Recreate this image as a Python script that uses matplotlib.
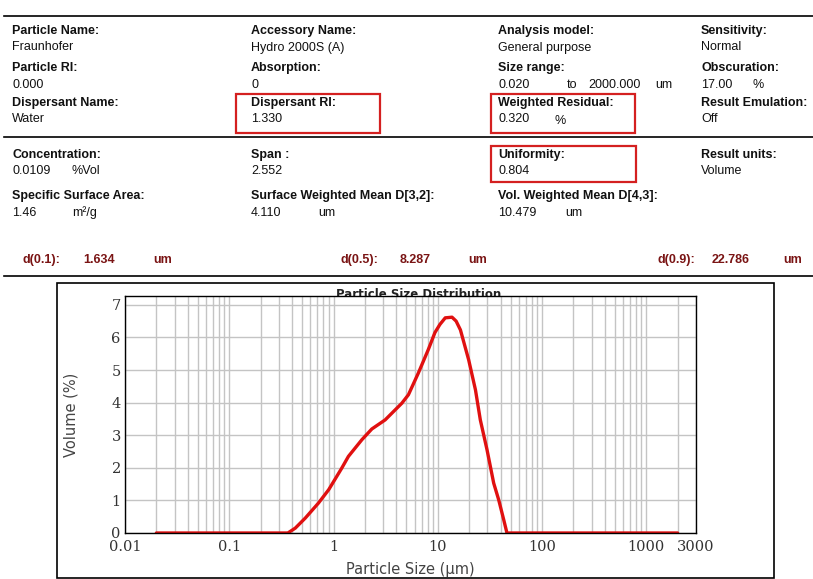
import numpy as np
import matplotlib.pyplot as plt
from matplotlib.patches import Rectangle
from matplotlib.ticker import LogLocator, FixedLocator, NullFormatter

# Particle size distribution
size_um = [0.02, 0.05, 0.1, 0.2, 0.3, 0.365, 0.43, 0.537, 0.718, 0.9, 1.2, 1.39,
           1.87, 2.33, 3.13, 4.52, 5.23, 6.5, 8.1, 9.4, 10.5, 11.8, 13.7, 15.0, 16.5,
           19.8, 23.0, 25.6, 29.7, 34.4, 38.4, 42.9, 46.1, 100, 500, 1000, 2000]
volume_pct = [0, 0, 0, 0, 0, 0, 0.15, 0.46, 0.92, 1.33, 1.99, 2.35,
              2.86, 3.19, 3.47, 3.98, 4.24, 4.90, 5.62, 6.15, 6.40, 6.60, 6.62, 6.50, 6.23,
              5.31, 4.39, 3.47, 2.55, 1.53, 1.02, 0.41, 0, 0, 0, 0, 0]

x_ticks = [0.01, 0.1, 1, 10, 100, 1000, 3000]
x_ticklabels = ["0.01", "0.1", "1", "10", "100", "1000", "3000"]
y_ticks = [0, 1, 2, 3, 4, 5, 6, 7]

# header fields: (x px, y px, label, value)
header_fields = [
    (12, 31, "Particle Name:", "Fraunhofer"),
    (251, 31, "Accessory Name:", "Hydro 2000S (A)"),
    (498, 31, "Analysis model:", "General purpose"),
    (701, 31, "Sensitivity:", "Normal"),
    (12, 68, "Particle RI:", "0.000"),
    (251, 68, "Absorption:", "0"),
    (498, 68, "Size range:", "0.020"),
    (701, 68, "Obscuration:", "17.00"),
    (12, 103, "Dispersant Name:", "Water"),
    (251, 103, "Dispersant RI:", "1.330"),
    (498, 103, "Weighted Residual:", "0.320"),
    (701, 103, "Result Emulation:", "Off"),
    (12, 155, "Concentration:", "0.0109"),
    (251, 155, "Span :", "2.552"),
    (498, 155, "Uniformity:", "0.804"),
    (701, 155, "Result units:", "Volume"),
    (12, 196, "Specific Surface Area:", "1.46"),
    (251, 196, "Surface Weighted Mean D[3,2]:", "4.110"),
    (498, 196, "Vol. Weighted Mean D[4,3]:", "10.479"),
]
# extra units text: (x px, y px, text)
header_units = [
    (567, 85, "to"), (588, 85, "2000.000"), (655, 85, "um"),
    (752, 85, "%"), (554, 120, "%"),
    (72, 171, "%Vol"), (72, 212, "m²/g"),
    (318, 212, "um"), (565, 212, "um"),
]
d_labels = ["d(0.1):", "d(0.5):", "d(0.9):"]
d_values = ["1.634", "8.287", "22.786"]
d_xpos = [(22, 83, 153), (340, 400, 468), (657, 712, 783)]
boxes = [(236, 94, 380, 133), (491, 94, 635, 133), (491, 146, 636, 182)]

W, H = 813, 579
fig = plt.figure(figsize=(W / 100, H / 100), dpi=100)


def fx(x):
    return x / W


def fy(y):
    return 1 - y / H


hfont = "Liberation Sans"
for x, y, lab, val in header_fields:
    fig.text(fx(x), fy(y), lab, fontsize=9, fontweight="bold", family=hfont,
             va="center", ha="left", color="#111111")
    fig.text(fx(x), fy(y + 16.5), val, fontsize=9, family=hfont,
             va="center", ha="left", color="#111111")
for x, y, t in header_units:
    fig.text(fx(x), fy(y + 0.5), t, fontsize=9, family=hfont, va="center", ha="left",
             color="#111111")

dcol = "#7a1414"
for lab, val, (x1, x2, x3) in zip(d_labels, d_values, d_xpos):
    for xx, t in ((x1, lab), (x2, val), (x3, "um")):
        fig.text(fx(xx), fy(260), t, fontsize=9, fontweight="bold", family=hfont,
                 va="center", ha="left", color=dcol)

for y in (16, 137, 276):
    fig.add_artist(plt.Line2D([fx(4), fx(813)], [fy(y), fy(y)], color="black", lw=1.2))

for x0, y0, x1, y1 in boxes:
    fig.add_artist(Rectangle((fx(x0), fy(y1)), fx(x1 - x0), (y1 - y0) / H,
                             fill=False, edgecolor="#d42020", lw=1.6))

# outer frame of the chart
fig.add_artist(Rectangle((fx(57), fy(578)), fx(774 - 57), (578 - 283) / H,
                         fill=False, edgecolor="black", lw=1.2))

# title sits partly behind the plot area, as in the report
fig.text(fx(419), fy(294), "Particle Size Distribution", fontsize=8.5, fontweight="bold",
         family="DejaVu Sans", ha="center", va="center", color="#222222", zorder=-1)

ax = fig.add_axes([fx(125), fy(533), fx(696 - 125), (533 - 296) / H])
ax.plot(size_um, volume_pct, color="#e01010", lw=2.4, solid_capstyle="round")
ax.set_xscale("log")
ax.set_xlim(0.01, 3000)
ax.set_ylim(0, 7.27)
ax.xaxis.set_major_locator(FixedLocator(x_ticks))
ax.set_xticklabels(x_ticklabels)
ax.xaxis.set_minor_locator(LogLocator(base=10, subs=np.arange(2, 10), numticks=20))
ax.xaxis.set_minor_formatter(NullFormatter())
ax.set_yticks(y_ticks)
ax.grid(True, which="both", axis="x", color="#c4c4c4", lw=1)
ax.grid(True, which="major", axis="y", color="#c4c4c4", lw=1)
ax.set_axisbelow(True)
ax.tick_params(which="both", length=0)
ax.tick_params(axis="x", pad=5)
ax.tick_params(axis="y", pad=3)
for lbl in ax.get_xticklabels() + ax.get_yticklabels():
    lbl.set_family("DejaVu Serif")
    lbl.set_fontsize(10.5)
    lbl.set_color("#333333")
for s in ax.spines.values():
    s.set_color("black")
    s.set_linewidth(1)

ax.set_ylabel("Volume (%)", family="DejaVu Sans", fontsize=10.5, color="#444444", labelpad=24)
ax.set_xlabel("Particle Size (µm)", family="DejaVu Sans", fontsize=10.5, color="#444444", labelpad=6)

fig.savefig("out.png", dpi=100)
